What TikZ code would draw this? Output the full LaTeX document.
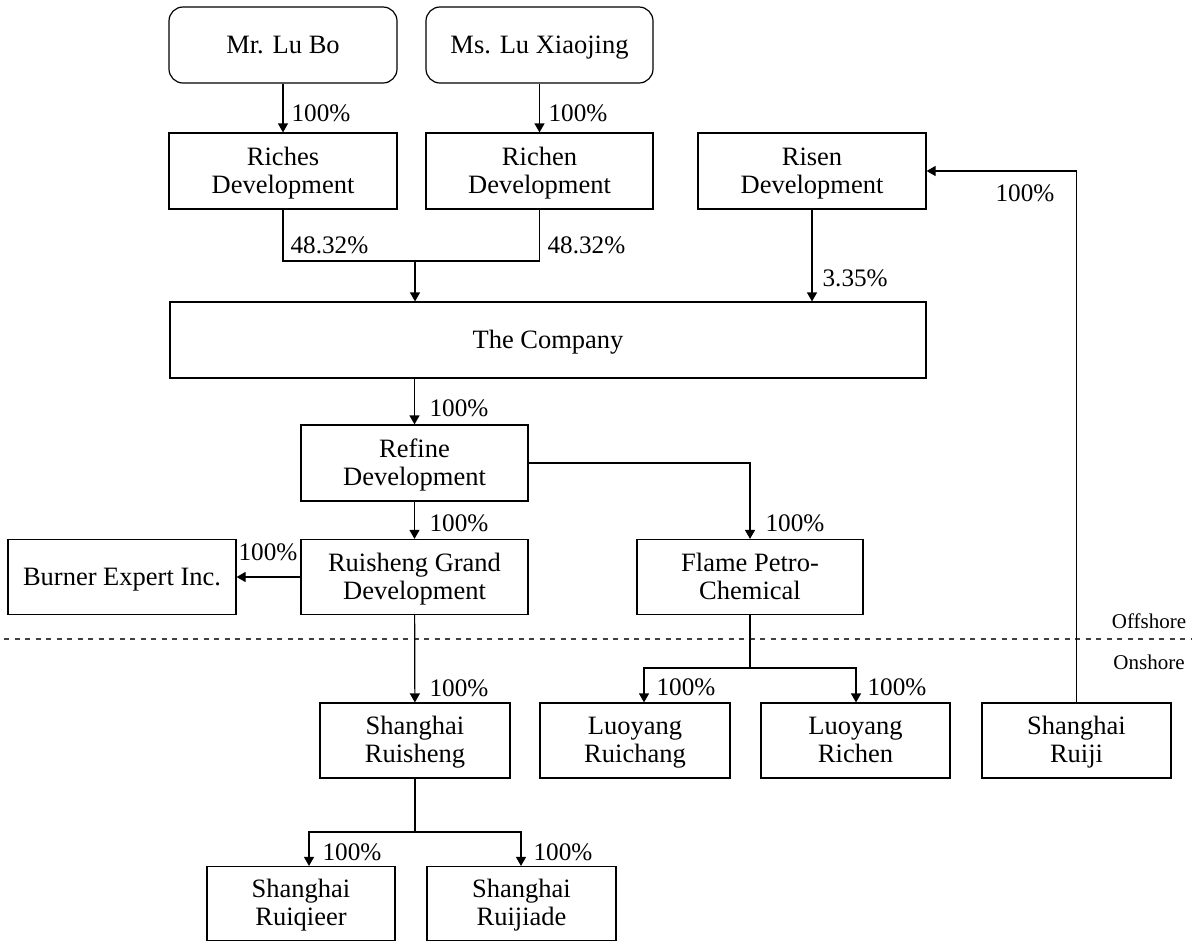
\documentclass[tikz,border=0pt]{standalone}
\usepackage{fontspec}
\setmainfont{Liberation Serif}
\usetikzlibrary{arrows.meta}
\newcommand\mst{\rule[-3pt]{0pt}{14pt}}
\begin{document}
\begin{tikzpicture}[x=0.5pt,y=-0.5pt,
  line width=0.6pt,
  box/.style={draw, line width=0.6pt, minimum width=114pt, minimum height=38pt, inner sep=0pt, align=center, font=\fontsize{13.25}{14}\selectfont},
  sbox/.style={box, minimum width=94.5pt},
  rbox/.style={box, rounded corners=7pt},
  arr/.style={-{Triangle[length=4.5pt,width=5pt]}},
  pct/.style={anchor=west, inner sep=0pt, font=\fontsize{12.6}{14}\selectfont},
  zone/.style={inner sep=0pt, font=\fontsize{10.5}{12}\selectfont}
]
\useasboundingbox (0,0) rectangle (1192,943);

% nodes
\node[rbox] (lubo) at (283,45) {\mst Mr. Lu Bo};
\node[rbox, minimum width=113.5pt] (luxj) at (539.5,45) {\mst Ms. Lu Xiaojing};
\node[box] (riches) at (283,171) {\mst Riches\\\mst Development};
\node[box, minimum width=113.5pt] (richen) at (539.5,171) {\mst Richen\\\mst Development};
\node[box] (risen) at (812,171) {\mst Risen\\\mst Development};
\node[box, minimum width=378pt] (company) at (548,340) {\mst The Company};
\node[box, minimum width=113.5pt] (refine) at (414.5,463) {\mst Refine\\\mst Development};
\node[box, minimum width=113.5pt, minimum height=37.5pt] (grand) at (414.5,577) {\mst Ruisheng Grand\\\mst Development};
\node[box, minimum height=37.5pt] (burner) at (122,577) {\mst Burner Expert Inc.};
\node[box, minimum width=113pt, minimum height=37.5pt] (flame) at (750,577) {\mst Flame Petro-\\\mst Chemical};
\node[sbox, minimum width=95pt, minimum height=37.5pt] (sruisheng) at (415,740.5) {\mst Shanghai\\\mst Ruisheng};
\node[sbox, minimum width=95pt, minimum height=37.5pt] (ruichang) at (635,740.5) {\mst Luoyang\\\mst Ruichang};
\node[sbox, minimum height=37.5pt] (lrichen) at (855.5,740.5) {\mst Luoyang\\\mst Richen};
\node[sbox, minimum height=37.5pt] (ruiji) at (1076.5,740.5) {\mst Shanghai\\\mst Ruiji};
\node[sbox, minimum width=94pt, minimum height=37pt] (ruiqieer) at (301,903.5) {\mst Shanghai\\\mst Ruiqieer};
\node[sbox, minimum height=37pt] (ruijiade) at (521.5,903.5) {\mst Shanghai\\\mst Ruijiade};

% offshore / onshore divider
\coordinate (dl) at (4,639);
\coordinate (dr) at (1192,639);
\draw[dashed, dash pattern=on 2.6pt off 2.65pt, line width=0.8pt, black!75] (dl) -- (dr);
\node[zone] (off) at (1149,621) {Offshore};
\node[zone] (on) at (1149,662) {Onshore};

% connectors
\draw[arr] (lubo) -- (riches);
\draw[arr] (luxj) -- (richen);
\coordinate (j1) at (415,261);
\draw (riches.south) |- (richen.south |- j1) -- (richen.south);
\draw[arr] (j1) -- (j1 |- company.north);
\draw[arr] (risen) -- (risen |- company.north);
\draw[arr] (ruiji.north) |- (risen.east);
\draw[arr] (refine.north |- company.south) -- (refine.north);
\draw[arr] (refine) -- (grand);
\draw[arr] (refine.east) -| (flame.north);
\draw[arr] (grand) -- (burner);
\draw[arr] (grand) -- (sruisheng);
\coordinate (fj) at (750,668);
\coordinate (fl) at (644,668);
\coordinate (fr) at (856,668);
\draw[arr] (flame.south) |- (fl) -- (fl |- ruichang.north);
\draw[arr] (fj) -- (fr) -- (fr |- lrichen.north);
\coordinate (sj) at (415,832);
\coordinate (sl) at (309,832);
\coordinate (sr) at (521,832);
\draw[arr] (sruisheng.south) |- (sl) -- (sl |- ruiqieer.north);
\draw[arr] (sj) -- (sr) -- (sr |- ruijiade.north);

% percentage labels
\node[pct] (p1) at (291,113) {100\%};
\node[pct] (p2) at (548,113) {100\%};
\node[pct] (p3) at (290,245) {48.32\%};
\node[pct] (p4) at (547,245) {48.32\%};
\node[pct] (p5) at (822,278) {3.35\%};
\node[pct] (p6) at (995,193) {100\%};
\node[pct] (p7) at (429,408) {100\%};
\node[pct] (p8) at (429,523) {100\%};
\node[pct] (p9) at (765,523) {100\%};
\node[pct] (p10) at (238,552) {100\%};
\node[pct] (p11) at (429,688) {100\%};
\node[pct] (p12) at (656,687) {100\%};
\node[pct] (p13) at (867,687) {100\%};
\node[pct] (p14) at (322,852) {100\%};
\node[pct] (p15) at (533,852) {100\%};
\end{tikzpicture}
\end{document}
